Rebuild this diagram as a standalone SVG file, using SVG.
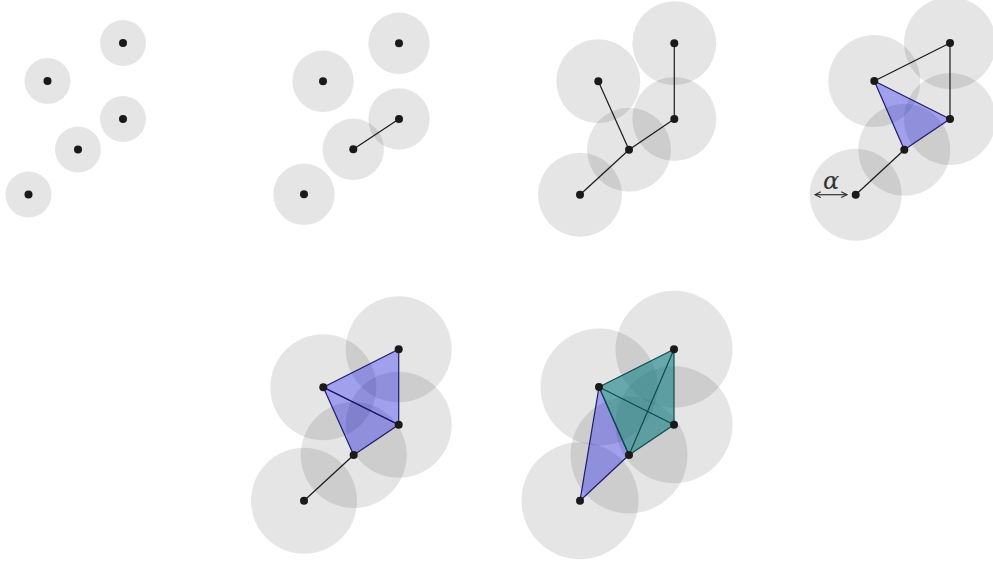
<svg xmlns="http://www.w3.org/2000/svg" width="993" height="566" viewBox="0 0 993 566">
<defs>
<style>
.ball{fill:#000;fill-opacity:0.1}
.pt{fill:#1a1a1a}
.e{stroke:#1a1a1a;stroke-width:1.2;fill:none}
.tri{fill:#0000ff;fill-opacity:0.3;stroke:#1c1c6a;stroke-width:1.2;stroke-linejoin:round}
.tet{fill:#137f86;fill-opacity:0.6;stroke:#0f4a50;stroke-width:1.2;stroke-linejoin:round}
.te{stroke:#0f4a50;stroke-width:1.2;fill:none}
.lbl{font-family:"DejaVu Serif","Liberation Serif",serif;font-style:italic;font-size:24px;fill:#333}
</style>
<marker id="ah" viewBox="0 0 10 10" refX="9" refY="5" markerWidth="6" markerHeight="6" orient="auto-start-reverse">
<path d="M1,1 L9,5 L1,9" fill="none" stroke="#333" stroke-width="1.5"/>
</marker>
</defs>

<g id="panel1">
<g class="ball"><circle cx="123" cy="43" r="23"/><circle cx="47.5" cy="81" r="23"/><circle cx="123" cy="119" r="23"/><circle cx="78" cy="149.5" r="23"/><circle cx="28.5" cy="194.5" r="23"/></g>
<g class="pt"><circle cx="123" cy="43" r="4"/><circle cx="47.5" cy="81" r="4"/><circle cx="123" cy="119" r="4"/><circle cx="78" cy="149.5" r="4"/><circle cx="28.5" cy="194.5" r="4"/></g>
</g>

<g id="panel2">
<g class="ball"><circle cx="399" cy="43.3" r="30.7"/><circle cx="323" cy="81.3" r="30.7"/><circle cx="399" cy="119" r="30.7"/><circle cx="353.3" cy="149.3" r="30.7"/><circle cx="304" cy="194.3" r="30.7"/></g>
<g id="connectors2"><line class="e" x1="353.3" y1="149.3" x2="399" y2="119"/></g>
<g class="pt"><circle cx="399" cy="43.3" r="4"/><circle cx="323" cy="81.3" r="4"/><circle cx="399" cy="119" r="4"/><circle cx="353.3" cy="149.3" r="4"/><circle cx="304" cy="194.3" r="4"/></g>
</g>

<g id="panel3">
<g class="ball"><circle cx="674.3" cy="43.3" r="42"/><circle cx="598.3" cy="81.3" r="42"/><circle cx="674.3" cy="119" r="42"/><circle cx="629" cy="149.7" r="42"/><circle cx="580" cy="194.7" r="42"/></g>
<g id="connectors3">
<line class="e" x1="674.3" y1="43.3" x2="674.3" y2="119"/>
<line class="e" x1="598.3" y1="81.3" x2="629" y2="149.7"/>
<line class="e" x1="629" y1="149.7" x2="674.3" y2="119"/>
<line class="e" x1="629" y1="149.7" x2="580" y2="194.7"/>
</g>
<g class="pt"><circle cx="674.3" cy="43.3" r="4"/><circle cx="598.3" cy="81.3" r="4"/><circle cx="674.3" cy="119" r="4"/><circle cx="629" cy="149.7" r="4"/><circle cx="580" cy="194.7" r="4"/></g>
</g>

<g id="panel4">
<g class="ball"><circle cx="950" cy="43" r="46"/><circle cx="874.3" cy="81" r="46"/><circle cx="950" cy="119" r="46"/><circle cx="904.3" cy="149.7" r="46"/><circle cx="855.7" cy="194.7" r="46"/></g>
<g id="connectors4">
<polygon class="tri" points="874.3,81 950,119 904.3,149.7"/>
<line class="e" x1="874.3" y1="81" x2="950" y2="43"/>
<line class="e" x1="950" y1="43" x2="950" y2="119"/>
<line class="e" x1="904.3" y1="149.7" x2="855.7" y2="194.7"/>
<line x1="815" y1="194.7" x2="847" y2="194.7" stroke="#333" stroke-width="1.2" marker-start="url(#ah)" marker-end="url(#ah)"/>
</g>
<text class="lbl" x="831" y="189" text-anchor="middle">α</text>
<g class="pt"><circle cx="950" cy="43" r="4"/><circle cx="874.3" cy="81" r="4"/><circle cx="950" cy="119" r="4"/><circle cx="904.3" cy="149.7" r="4"/><circle cx="855.7" cy="194.7" r="4"/></g>
</g>

<g id="panel5">
<g class="ball"><circle cx="398.7" cy="349.3" r="53"/><circle cx="323.3" cy="387.3" r="53"/><circle cx="398.7" cy="424.7" r="53"/><circle cx="353.7" cy="455" r="53"/><circle cx="304" cy="500.7" r="53"/></g>
<g id="connectors5">
<polygon class="tri" points="323.3,387.3 398.7,349.3 398.7,424.7"/>
<polygon class="tri" points="323.3,387.3 398.7,424.7 353.7,455"/>
<line class="e" x1="353.7" y1="455" x2="304" y2="500.7"/>
</g>
<g class="pt"><circle cx="398.7" cy="349.3" r="4"/><circle cx="323.3" cy="387.3" r="4"/><circle cx="398.7" cy="424.7" r="4"/><circle cx="353.7" cy="455" r="4"/><circle cx="304" cy="500.7" r="4"/></g>
</g>

<g id="panel6">
<g class="ball"><circle cx="674" cy="349.3" r="58.5"/><circle cx="599" cy="387" r="58.5"/><circle cx="674" cy="424.7" r="58.5"/><circle cx="629" cy="455" r="58.5"/><circle cx="580" cy="500.7" r="58.5"/></g>
<g id="connectors6">
<polygon class="tri" points="599,387 629,455 580,500.7"/>
<polygon class="tet" points="599,387 674,349.3 674,424.7 629,455"/>
<line class="te" x1="599" y1="387" x2="674" y2="424.7"/>
<line class="te" x1="674" y1="349.3" x2="629" y2="455"/>
</g>
<g class="pt"><circle cx="674" cy="349.3" r="4"/><circle cx="599" cy="387" r="4"/><circle cx="674" cy="424.7" r="4"/><circle cx="629" cy="455" r="4"/><circle cx="580" cy="500.7" r="4"/></g>
</g>
</svg>
